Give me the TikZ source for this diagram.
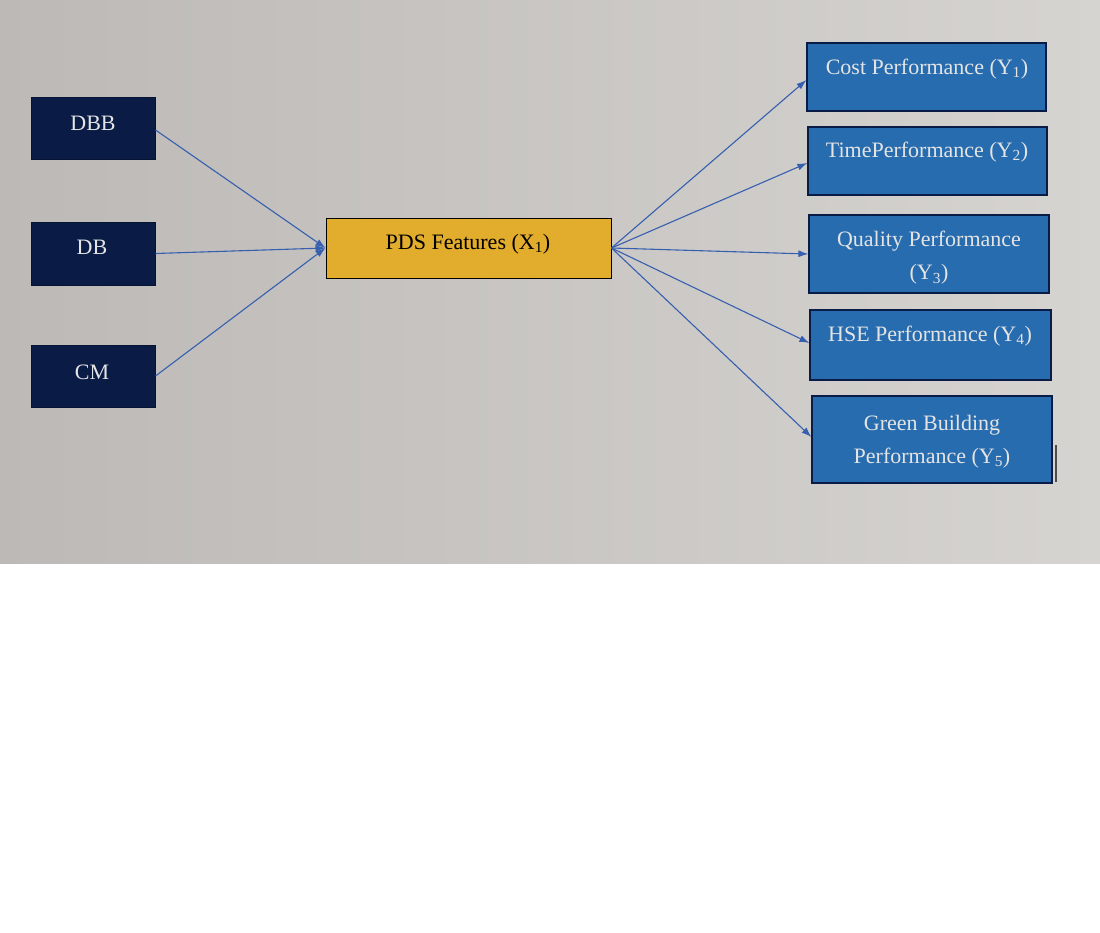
\documentclass[tikz,border=0pt]{standalone}
\usepackage{fontspec}
\setmainfont{Liberation Serif}
\usetikzlibrary{arrows.meta}
\definecolor{navy}{RGB}{10,28,70}
\definecolor{boxblue}{RGB}{40,108,176}
\definecolor{gold}{RGB}{226,172,44}
\definecolor{arrowblue}{RGB}{55,95,175}
\definecolor{txtgray}{RGB}{228,228,228}
\definecolor{bgleft}{RGB}{188,185,182}
\definecolor{bgright}{RGB}{214,212,209}
\tikzset{
  navybox/.style={draw=navy!70!black, line width=1pt, fill=navy, minimum width=124pt, minimum height=62pt, inner sep=0pt},
  bluebox/.style={draw=navy, line width=1.2pt, fill=boxblue, minimum width=239pt, inner sep=0pt},
  goldbox/.style={draw=black, line width=1pt, fill=gold, minimum width=285pt, minimum height=60pt, inner sep=0pt},
  lighttxt/.style={text=txtgray, font=\fontsize{22}{33}\selectfont, align=center, inner sep=0pt},
  darktxt/.style={text=black, font=\fontsize{22}{33}\selectfont, align=center, inner sep=0pt},
  conn/.style={draw=arrowblue, line width=1.1pt, -{Latex[length=10pt,width=7pt]}}
}
\begin{document}
\begin{tikzpicture}[x=1pt,y=-1pt]
\useasboundingbox (0,0) rectangle (1100,932);
\shade[left color=bgleft, right color=bgright] (0,0) rectangle (1100,563);
% left boxes
\node[navybox] (dbb) at (93,128) {};
\node[navybox, minimum height=63pt] (db) at (93,253.5) {};
\node[navybox] (cm) at (93,376) {};
\node[lighttxt] (dbbt) at (93,123) {DBB};
\node[lighttxt] (dbt) at (92,247) {DB};
\node[lighttxt] (cmt) at (92,372) {CM};
% center
\node[goldbox] (pds) at (468.5,248) {};
\node[darktxt] (pdst) at (468,244) {PDS Features (X\textsubscript{1})};
% right boxes
\node[bluebox, minimum height=68pt] (cost) at (926.5,77) {};
\node[bluebox, minimum height=68pt] (time) at (927.5,161) {};
\node[bluebox, minimum width=240pt, minimum height=78pt] (qual) at (929,254) {};
\node[bluebox, minimum width=241pt, minimum height=70pt] (hse) at (930.5,345) {};
\node[bluebox, minimum width=240pt, minimum height=87pt] (green) at (932,439.5) {};
\node[lighttxt] (costt) at (927,69) {Cost Performance (Y\textsubscript{1})};
\node[lighttxt] (timet) at (927,152) {TimePerformance (Y\textsubscript{2})};
\node[lighttxt] (qualt) at (929,258) {Quality Performance\\(Y\textsubscript{3})};
\node[lighttxt] (hset) at (930,336) {HSE Performance (Y\textsubscript{4})};
\node[lighttxt] (greent) at (932,442) {Green Building\\Performance (Y\textsubscript{5})};
% cursor mark
\coordinate (c1) at (1056,445);
\coordinate (c2) at (1056,482);
\draw[line width=1.5pt, black!70] (c1) -- (c2);
% connectors
\draw[conn] (dbb.east |- 0,130) -- (pds.west);
\draw[conn] (db.east) -- (pds.west);
\draw[conn] (cm.east) -- (pds.west);
\draw[conn] (pds.east) -- (cost.west |- 0,80);
\draw[conn] (pds.east) -- (time.west |- 0,163);
\draw[conn] (pds.east) -- (qual.west);
\draw[conn] (pds.east) -- (hse.west |- 0,343);
\draw[conn] (pds.east) -- (green.west |- 0,437);
\end{tikzpicture}
\end{document}
